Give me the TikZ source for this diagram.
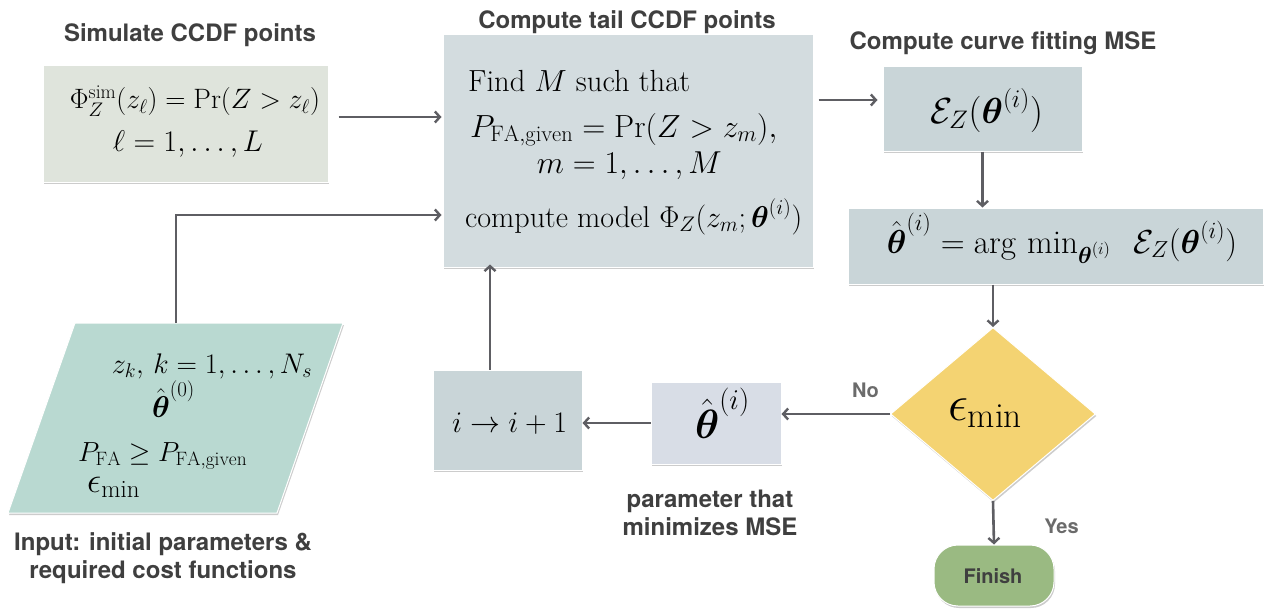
\RequirePackage{fix-cm}
\documentclass[tikz,border=0pt]{standalone}
\usepackage{amsmath,amssymb,graphicx}
\usepackage{fontspec}
\setsansfont{TeX Gyre Heros}
\usetikzlibrary{arrows.meta,shapes.geometric,shadows,calc}
\definecolor{simfill}{HTML}{DFE4DC}
\definecolor{ccdffill}{HTML}{D3DCDF}
\definecolor{msefill}{HTML}{C9D5D8}
\definecolor{thfill}{HTML}{D8DDE6}
\definecolor{infill}{HTML}{B9D9D1}
\definecolor{diafill}{HTML}{F4D372}
\definecolor{finfill}{HTML}{9ABA82}
\definecolor{arrcol}{HTML}{5E5E63}
\definecolor{labcol}{HTML}{3F3F3F}
\definecolor{yncol}{HTML}{6B6B6B}
\newcommand{\fitwd}[2]{\resizebox{#1pt}{!}{#2}}
\tikzset{
  boxstyle/.style={draw=white, line width=1pt, inner sep=0pt,
    drop shadow={shadow xshift=1pt, shadow yshift=-2pt, opacity=0.2, fill=black}},
  arr/.style={draw=arrcol, line width=2.6pt, -{Straight Barb[length=5pt,width=11pt,line width=2.4pt]}},
  lab/.style={text=labcol, font=\sffamily\bfseries\fontsize{24}{28}\selectfont, align=center, inner sep=0pt},
  yn/.style={text=yncol, font=\sffamily\bfseries\fontsize{20}{24}\selectfont, inner sep=0pt},
  mtext/.style={font=\fontsize{25}{30}\selectfont, inner sep=0pt, text=black, anchor=base},
}
\begin{document}
\begin{tikzpicture}[x=1pt,y=-1pt]
\useasboundingbox (0,0) rectangle (1270,610);

% boxes
\node[boxstyle, fill=simfill, minimum width=285pt, minimum height=116pt] (sim) at (185.5,124) {};
\node[boxstyle, fill=ccdffill, minimum width=370pt, minimum height=232pt] (ccdf) at (628,151) {};
\node[boxstyle, fill=msefill, minimum width=199pt, minimum height=84pt] (mse) at (982.5,109) {};
\node[boxstyle, fill=msefill, minimum width=415pt, minimum height=76pt] (argmin) at (1055.5,246) {};
\node[boxstyle, fill=msefill, minimum width=149pt, minimum height=100pt] (inc) at (507.5,420) {};
\node[boxstyle, fill=thfill, minimum width=130pt, minimum height=82pt] (th) at (716,423) {};
\node[boxstyle, diamond, fill=diafill, minimum width=205pt, minimum height=173pt, aspect=1.18] (dia) at (993,414) {};
\node[boxstyle, fill=finfill, rounded corners=24pt, minimum width=120pt, minimum height=61pt] (fin) at (994,575.5) {};
\path[draw=white, line width=1pt, fill=infill,
  drop shadow={shadow xshift=1pt, shadow yshift=-2pt, opacity=0.2, fill=black}]
  (75,323) -- (343,323) -- (277,513) -- (8,513) -- cycle;
\coordinate (inTop) at (176,323);

% texts in boxes
\node[mtext] (simt1) at (195,109) {\fitwd{250}{$\Phi_Z^{\mathrm{sim}}(z_\ell)=\Pr(Z>z_\ell)$}};
\node[mtext] (simt2) at (188,151) {\fitwd{150}{$\ell=1,\ldots,L$}};
\node[mtext, anchor=base west] (c1) at (468,92) {\fitwd{222}{Find $M$ such that}};
\node[mtext, anchor=base west] (c2) at (470,137) {\fitwd{307}{$P_{\mathrm{FA,given}}=\Pr(Z>z_m),$}};
\node[mtext] (c3) at (629.5,173) {\fitwd{185}{$m=1,\ldots,M$}};
\node[mtext, anchor=base west] (c4) at (465,227) {\fitwd{337}{compute model $\Phi_Z(z_m;\boldsymbol{\theta}^{(i)})$}};
\node[mtext] (mset) at (986.5,123) {\fitwd{113}{$\mathcal{E}_Z(\boldsymbol{\theta}^{(i)})$}};
\node[mtext] (argt) at (1062,253)
  {\fitwd{350}{$\hat{\boldsymbol{\theta}}^{(i)}=\arg\,\min_{\boldsymbol{\theta}^{(i)}}\enspace\mathcal{E}_Z(\boldsymbol{\theta}^{(i)})$}};
\node[mtext] (inct) at (509.5,432) {\fitwd{115}{$i\rightarrow i+1$}};
\node[mtext] (tht) at (722.5,438) {\fitwd{55}{$\hat{\boldsymbol{\theta}}^{(i)}$}};
\node[mtext] (diat) at (985.5,420) {\fitwd{75}{$\epsilon_{\min}$}};
\node[text=labcol, font=\sffamily\bfseries\fontsize{20}{24}\selectfont, inner sep=0pt] (fint) at (993,576) {Finish};
\node[mtext] (in1) at (212,373) {\fitwd{200}{$z_k,\,k=1,\ldots,N_s$}};
\node[mtext] (in2) at (173.5,417) {\fitwd{43}{$\hat{\boldsymbol{\theta}}^{(0)}$}};
\node[mtext, anchor=base west] (in3) at (78,461) {\fitwd{169}{$P_{\mathrm{FA}}\geq P_{\mathrm{FA,given}}$}};
\node[mtext, anchor=base west] (in4) at (87,492) {\fitwd{53}{$\epsilon_{\min}$}};

% labels
\node[lab] (l1) at (190,35) {Simulate CCDF points};
\node[lab] (l2) at (627,22) {Compute tail CCDF points};
\node[lab] (l3) at (1003,43) {Compute curve fitting MSE};
\node[lab] (l4) at (163,558) {Input: initial parameters \&\\required cost functions};
\node[lab] (l5) at (710,513) {parameter that\\minimizes MSE};
\node[yn] (no) at (865.5,390) {No};
\node[yn] (yes) at (1061.5,526) {Yes};

% connectors
\draw[arr, shorten <=10pt, shorten >=1pt] ([yshift=7pt]sim.east) coordinate (a1) -- (a1 -| ccdf.west);
\draw[arr, shorten >=1pt] (inTop) |- ([yshift=-64pt]ccdf.west);
\draw[arr, shorten >=-3pt] ([xshift=-17.5pt]inc.north) -- ([xshift=-17.5pt]inc.north |- ccdf.south);
\draw[arr, shorten <=5pt, shorten >=5pt] ([yshift=9pt]mse.west -| ccdf.east) -- ([yshift=9pt]mse.west);
\draw[arr] (mse.south) -- (mse.south |- argmin.north);
\draw[arr] (argmin.south -| dia.north) -- (dia.north);
\draw[arr] (dia.west) -- (dia.west -| th.east);
\draw[arr] (th.west) -- (th.west -| inc.east);
\draw[arr] (dia.south) -- (fin.north);
\end{tikzpicture}
\end{document}
